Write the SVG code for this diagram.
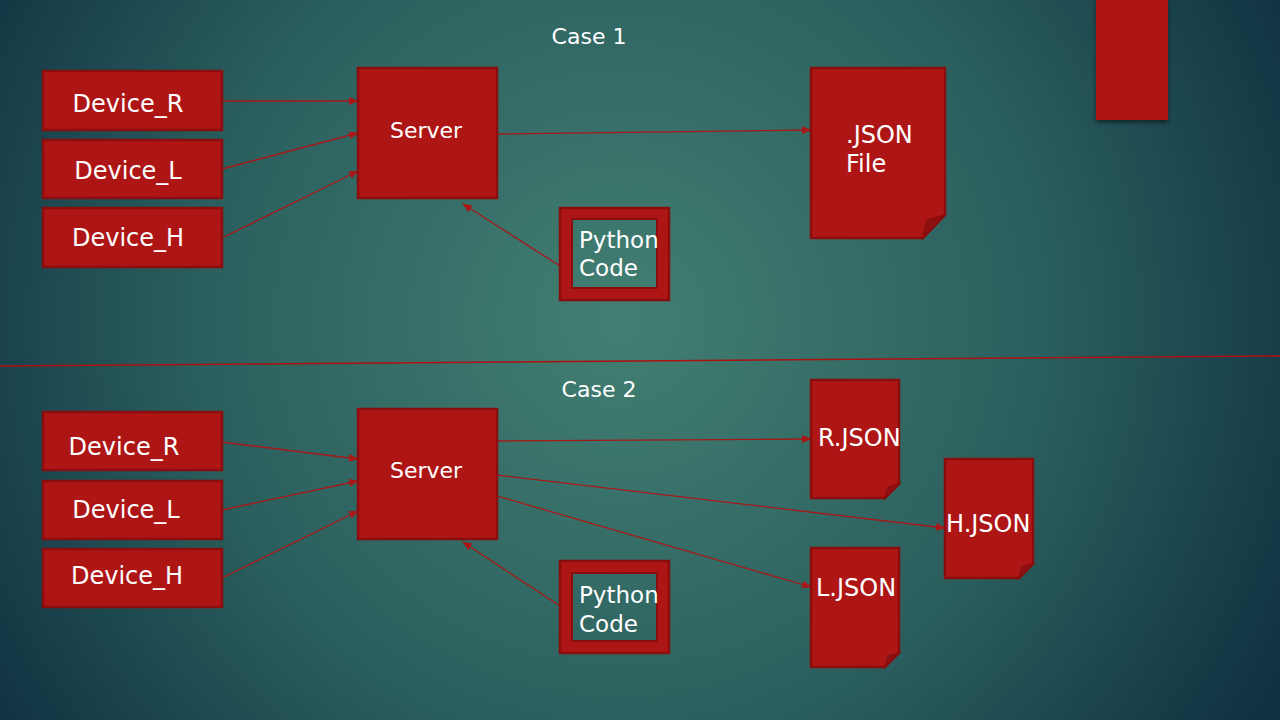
<svg xmlns="http://www.w3.org/2000/svg" width="1280" height="720" viewBox="0 0 1280 720">
<defs>
<radialGradient id="bg" gradientUnits="userSpaceOnUse" cx="620" cy="320" r="760">
<stop offset="0" stop-color="#427f72"/>
<stop offset="0.55" stop-color="#2b5f5e"/>
<stop offset="1" stop-color="#0f3040"/>
</radialGradient>
<marker id="arr" markerWidth="10" markerHeight="8" refX="9" refY="4" orient="auto" markerUnits="userSpaceOnUse">
<path d="M0,0 L10,4 L0,8 Z" fill="#a81818"/>
</marker>
<filter id="sh" x="-20%" y="-20%" width="140%" height="140%">
<feDropShadow dx="0" dy="3" stdDeviation="2" flood-color="#000" flood-opacity="0.45"/>
</filter>
</defs>
<style>
.box{fill:#ae1616;stroke:#8a0e0e;stroke-width:2.5}
.t{font-family:"DejaVu Sans","Liberation Sans",sans-serif;font-size:24px;fill:#ffffff}
.s{font-size:22px}
.p{font-size:23px}
.c{text-anchor:middle}
.con{stroke:#a81818;stroke-width:1.3;fill:none}
.fold{fill:#8e1010;stroke:#8a0e0e;stroke-width:1.5}
</style>
<rect x="0" y="0" width="1280" height="720" fill="url(#bg)"/>
<rect x="1096" y="-2" width="72" height="122" fill="#ae1616" filter="url(#sh)"/>
<line x1="0" y1="366" x2="1280" y2="356" stroke="#b01010" stroke-width="1.6"/>
<text class="t s c" x="589" y="44">Case 1</text>
<text class="t s c" x="599" y="397">Case 2</text>

<g id="connectors">
<line class="con" x1="222" y1="101" x2="358" y2="101" marker-end="url(#arr)"/>
<line class="con" x1="222" y1="169" x2="358" y2="133" marker-end="url(#arr)"/>
<line class="con" x1="222" y1="238" x2="358" y2="171" marker-end="url(#arr)"/>
<line class="con" x1="560" y1="266" x2="463" y2="204" marker-end="url(#arr)"/>
<line class="con" x1="497" y1="134" x2="811" y2="130" marker-end="url(#arr)"/>
<line class="con" x1="222" y1="442" x2="358" y2="459" marker-end="url(#arr)"/>
<line class="con" x1="222" y1="510" x2="358" y2="481" marker-end="url(#arr)"/>
<line class="con" x1="222" y1="578" x2="358" y2="511" marker-end="url(#arr)"/>
<line class="con" x1="560" y1="606" x2="463" y2="542" marker-end="url(#arr)"/>
<line class="con" x1="497" y1="441" x2="811" y2="439" marker-end="url(#arr)"/>
<line class="con" x1="497" y1="475" x2="945" y2="528" marker-end="url(#arr)"/>
<line class="con" x1="497" y1="496" x2="811" y2="587" marker-end="url(#arr)"/>
</g>

<g id="c1-device-r"><rect class="box" x="43" y="71" width="179" height="59"/><text class="t c" x="128" y="112">Device_R</text></g>
<g id="c1-device-l"><rect class="box" x="43" y="140" width="179" height="58"/><text class="t c" x="128" y="179">Device_L</text></g>
<g id="c1-device-h"><rect class="box" x="43" y="208" width="179" height="59"/><text class="t c" x="128" y="246">Device_H</text></g>
<g id="c1-server"><rect class="box" x="358" y="68" width="139" height="130"/><text class="t s c" x="426" y="138">Server</text></g>
<g id="c1-python"><rect class="box" x="560" y="208" width="109" height="92"/><rect x="572" y="219" width="85" height="69" fill="url(#bg)" stroke="#8a0e0e" stroke-width="2"/><text class="t p" x="579" y="248">Python</text><text class="t p" x="579" y="276">Code</text></g>
<g id="c1-json"><path class="box" d="M811,68 L945,68 L945,215 L923,238 L811,238 Z"/><path class="fold" d="M945,215 L927,220 L923,238 Z"/><text class="t" x="846" y="143">.JSON</text><text class="t" x="846" y="172">File</text></g>

<g id="c2-device-r"><rect class="box" x="43" y="412" width="179" height="58"/><text class="t c" x="124" y="455">Device_R</text></g>
<g id="c2-device-l"><rect class="box" x="43" y="481" width="179" height="58"/><text class="t c" x="126" y="518">Device_L</text></g>
<g id="c2-device-h"><rect class="box" x="43" y="549" width="179" height="58"/><text class="t c" x="127" y="584">Device_H</text></g>
<g id="c2-server"><rect class="box" x="358" y="409" width="139" height="130"/><text class="t s c" x="426" y="478">Server</text></g>
<g id="c2-python"><rect class="box" x="560" y="561" width="109" height="92"/><rect x="572" y="573" width="85" height="68" fill="url(#bg)" stroke="#8a0e0e" stroke-width="2"/><text class="t p" x="579" y="603">Python</text><text class="t p" x="579" y="632">Code</text></g>
<g id="c2-r-json"><path class="box" d="M811,380 L899,380 L899,484 L885,498 L811,498 Z"/><path class="fold" d="M899,484 L888,487 L885,498 Z"/><text class="t" x="818" y="446">R.JSON</text></g>
<g id="c2-h-json"><path class="box" d="M945,459 L1033,459 L1033,564 L1019,578 L945,578 Z"/><path class="fold" d="M1033,564 L1022,567 L1019,578 Z"/><text class="t" x="946" y="532">H.JSON</text></g>
<g id="c2-l-json"><path class="box" d="M811,548 L899,548 L899,653 L885,667 L811,667 Z"/><path class="fold" d="M899,653 L888,656 L885,667 Z"/><text class="t" x="816" y="596">L.JSON</text></g>
</svg>
